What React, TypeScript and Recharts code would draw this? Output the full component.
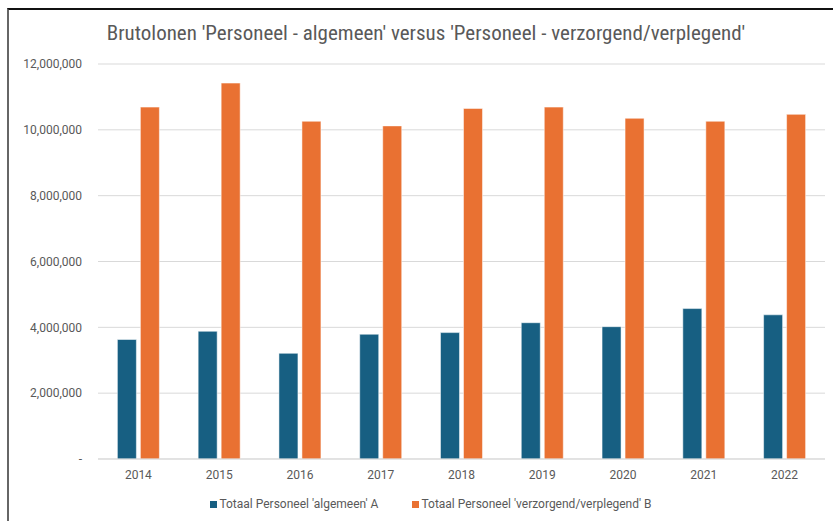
// @ts-nocheck
import React from 'react';
import { BarChart, Bar, XAxis, YAxis, CartesianGrid } from 'recharts';

// Jaren en brutolonen per categorie
const years = ['2014', '2015', '2016', '2017', '2018', '2019', '2020', '2021', '2022'];
const algemeenA = [3630000, 3880000, 3210000, 3790000, 3840000, 4140000, 4020000, 4570000, 4380000];
const verzorgendB = [10690000, 11420000, 10260000, 10120000, 10650000, 10690000, 10350000, 10260000, 10470000];
const yTicks = [0, 2000000, 4000000, 6000000, 8000000, 10000000, 12000000];

const seriesNames = {
    a: "Totaal Personeel 'algemeen' A",
    b: "Totaal Personeel 'verzorgend/verplegend' B",
};

const data = years.map((year, i) => ({ year, a: algemeenA[i], b: verzorgendB[i] }));

const BLUE = '#175f82';
const ORANGE = '#e97132';
const TEXT = '#595959';

const fmt = (v: number) => (v === 0 ? '-' : v.toLocaleString('en-US'));

const App = () => {
    return (
        <div style={{ position: 'absolute', left: 0, top: 0, width: 833, height: 521, background: '#fff', overflow: 'hidden' }}>
            <div style={{ position: 'absolute', left: 7, top: 8, width: 840, height: 540, borderLeft: '2px solid #666', borderTop: '2px solid #111' }}></div>
            <div style={{ position: 'absolute', left: 0, top: 21, width: 852, textAlign: 'center', fontSize: 21, color: TEXT, fontFamily: '"Liberation Sans Narrow", "Roboto Condensed", Roboto, sans-serif' }}>
                Brutolonen 'Personeel - algemeen' versus 'Personeel - verzorgend/verplegend'
            </div>
            <div style={{ position: 'absolute', left: 0, top: 0 }}>
                <BarChart width={833} height={521} data={data} margin={{ top: 64, right: 8, left: 0, bottom: 32 }} barCategoryGap="24%" barGap={4}>
                    <CartesianGrid vertical={false} stroke="#d9d9d9" />
                    <XAxis dataKey="year" height={30} axisLine={{ stroke: '#d9d9d9' }} tickLine={false} tickMargin={5}
                        tick={{ fontSize: 12, fill: TEXT, fontFamily: 'Roboto, sans-serif' }} />
                    <YAxis width={98} domain={[0, 12000000]} ticks={yTicks} tickFormatter={fmt} axisLine={false} tickLine={false}
                        tickSize={0} tickMargin={16} tick={{ fontSize: 12, fill: TEXT, fontFamily: 'Roboto, sans-serif' }} />
                    <Bar dataKey="a" name={seriesNames.a} fill={BLUE} stroke="#ffffff" strokeOpacity={0.5} isAnimationActive={false} />
                    <Bar dataKey="b" name={seriesNames.b} fill={ORANGE} stroke="#ffffff" strokeOpacity={0.5} isAnimationActive={false} />
                </BarChart>
            </div>
            <div style={{ position: 'absolute', left: 0, top: 497, width: 862, display: 'flex', justifyContent: 'center', gap: 34, fontSize: 12, color: TEXT, fontFamily: 'Roboto, sans-serif' }}>
                <span style={{ display: 'flex', alignItems: 'center' }}>
                    <span style={{ width: 7, height: 7, background: BLUE, marginRight: 2, display: 'inline-block' }}></span>
                    {seriesNames.a}
                </span>
                <span style={{ display: 'flex', alignItems: 'center' }}>
                    <span style={{ width: 7, height: 7, background: ORANGE, marginRight: 2, display: 'inline-block' }}></span>
                    {seriesNames.b}
                </span>
            </div>
        </div>
    );
};

export default App;
